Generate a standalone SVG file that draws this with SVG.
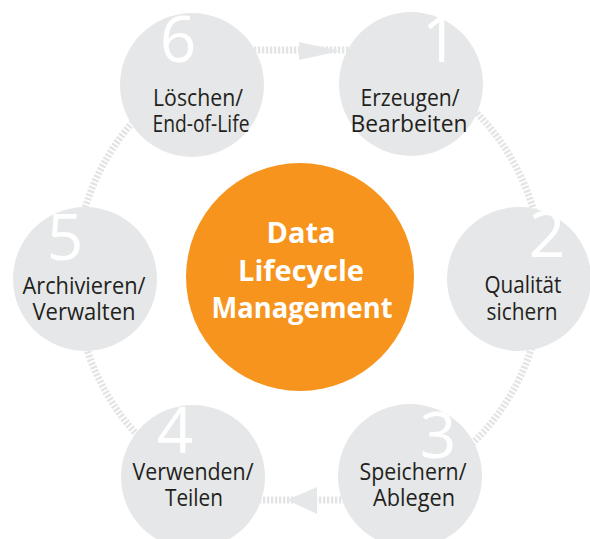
<svg xmlns="http://www.w3.org/2000/svg" width="590" height="539" viewBox="0 0 590 539">
<defs>
<style>
.ring{fill:none;stroke:#E3E4E5;stroke-width:7;stroke-dasharray:2.3 1.7}
.arrow{fill:#E6E7E8}
.node{fill:#E6E7E8}
.num{font-family:"Open Sans","DejaVu Sans",sans-serif;font-size:64px;fill:#FFFFFF;text-anchor:middle}
.lbl{font-family:"Open Sans","DejaVu Sans",sans-serif;font-size:24px;fill:#231F20;text-anchor:middle}
.ctr{font-family:"Open Sans","DejaVu Sans",sans-serif;font-size:29px;font-weight:bold;fill:#FFFFFF;text-anchor:middle}
</style>
</defs>
<rect width="590" height="539" fill="#FFFFFF"/>
<g id="connectors">
<path class="ring" d="M 143.5 110.5 A 234 234 0 0 0 78.6 235.4"/>
<path class="ring" d="M 78.6 316.6 A 234 234 0 0 0 143.5 441.5"/>
<path class="ring" d="M 465.6 102.1 A 234 234 0 0 1 539.4 235.4"/>
<path class="ring" d="M 539.4 316.6 A 234 234 0 0 1 465.6 449.9"/>
<path class="ring" d="M 250 50 L 352 50"/>
<path class="ring" d="M 255 500 L 348 500"/>
<polygon class="arrow" points="299,42 340,51 299,60"/>
<polygon class="arrow" points="317,487 287,500 317,514"/>
</g>
<g id="center">
<circle cx="300" cy="277" r="114" fill="#F7941D"/>
<text class="ctr" x="301" y="243">Data</text>
<text class="ctr" x="301" y="281">Lifecycle</text>
<text class="ctr" x="302" y="318" textLength="181" lengthAdjust="spacingAndGlyphs">Management</text>
</g>
<g id="node1">
<circle class="node" cx="411" cy="84" r="72"/>
<text class="num" x="440" y="62">1</text>
<text class="lbl" x="410" y="106" textLength="99" lengthAdjust="spacingAndGlyphs">Erzeugen/</text>
<text class="lbl" x="409" y="132" textLength="117" lengthAdjust="spacingAndGlyphs">Bearbeiten</text>
</g>
<g id="node2">
<circle class="node" cx="519" cy="279" r="72"/>
<text class="num" x="547" y="257">2</text>
<text class="lbl" x="523" y="293" textLength="77" lengthAdjust="spacingAndGlyphs">Qualität</text>
<text class="lbl" x="522" y="320" textLength="71" lengthAdjust="spacingAndGlyphs">sichern</text>
</g>
<g id="node3">
<circle class="node" cx="410" cy="476" r="72"/>
<text class="num" x="438" y="458">3</text>
<text class="lbl" x="413" y="480" textLength="107" lengthAdjust="spacingAndGlyphs">Speichern/</text>
<text class="lbl" x="414" y="506" textLength="82" lengthAdjust="spacingAndGlyphs">Ablegen</text>
</g>
<g id="node4">
<circle class="node" cx="193" cy="477" r="72"/>
<text class="num" x="175" y="453">4</text>
<text class="lbl" x="193" y="480" textLength="121" lengthAdjust="spacingAndGlyphs">Verwenden/</text>
<text class="lbl" x="194" y="506" textLength="58" lengthAdjust="spacingAndGlyphs">Teilen</text>
</g>
<g id="node5">
<circle class="node" cx="85" cy="279" r="72"/>
<text class="num" x="65" y="260">5</text>
<text class="lbl" x="84" y="294" textLength="123" lengthAdjust="spacingAndGlyphs">Archivieren/</text>
<text class="lbl" x="84" y="320" textLength="103" lengthAdjust="spacingAndGlyphs">Verwalten</text>
</g>
<g id="node6">
<circle class="node" cx="192" cy="85" r="72"/>
<text class="num" x="178" y="62">6</text>
<text class="lbl" x="198" y="106" textLength="90" lengthAdjust="spacingAndGlyphs">Löschen/</text>
<text class="lbl" x="201" y="132" textLength="97" lengthAdjust="spacingAndGlyphs">End-of-Life</text>
</g>
</svg>
